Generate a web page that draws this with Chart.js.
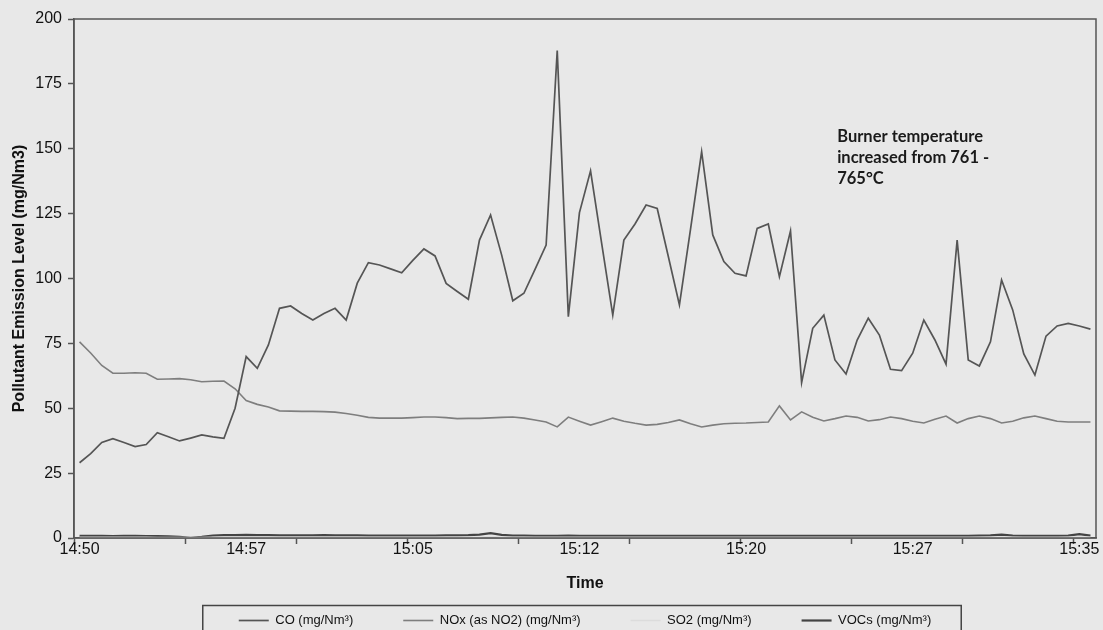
<!DOCTYPE html>
<html>
<head>
<meta charset="utf-8">
<title>Pollutant Emission Level</title>
<script src="https://cdn.jsdelivr.net/npm/chart.js@4.4.1/dist/chart.umd.min.js"></script>
<style>
  html, body { margin: 0; padding: 0; background: #e8e8e8; overflow: hidden; }
  #wrap { width: 1103px; height: 637px; }
</style>
</head>
<body>
<div id="wrap"><canvas id="emissionChart" width="1103" height="637"></canvas></div>
<script>
// --- Datos (una muestra cada 30 s, 14:50:00 - 15:35:30) ---
const co = [
  29, 32.5, 36.8, 38.3, 36.8, 35.2, 36, 40.6, 39, 37.4,
  38.5, 39.7, 39, 38.4, 50, 69.9, 65.4, 74.4, 88.5, 89.4,
  86.5, 84, 86.5, 88.5, 84, 98.2, 106.1, 105.2, 103.7, 102.2,
  107, 111.4, 108.7, 98.1, 95, 92, 114.8, 124.5, 109, 91.4,
  94.3, 103.5, 112.9, 187.8, 85.3, 125.4, 141.5, 113.5, 85.9, 114.8,
  121, 128.3, 127, 108.5, 89.8, 119, 148.9, 116.8, 106.5, 102,
  101, 119.3, 121, 100.7, 118.3, 59.9, 80.8, 85.9, 68.6, 63.2,
  76.3, 84.7, 78.2, 65, 64.5, 71.2, 84, 76.3, 67, 114.8,
  68.6, 66.3, 75.6, 99.4, 87.9, 70.9, 62.8, 77.8, 81.7, 82.7,
  81.7, 80.5
];
const nox = [
  75.6, 71.3, 66.5, 63.5, 63.5, 63.7, 63.5, 61.2, 61.3, 61.4,
  61, 60.2, 60.4, 60.5, 57.5, 53, 51.5, 50.5, 49, 48.9,
  48.8, 48.8, 48.7, 48.5, 48, 47.3, 46.5, 46.2, 46.2, 46.2,
  46.4, 46.6, 46.6, 46.4, 46, 46.1, 46.1, 46.3, 46.5, 46.6,
  46.2, 45.5, 44.7, 42.8, 46.6, 45, 43.5, 44.8, 46.2, 45,
  44.2, 43.5, 43.8, 44.5, 45.5, 44, 42.8, 43.5, 44, 44.2,
  44.3, 44.5, 44.7, 50.9, 45.5, 48.6, 46.5, 45.1, 46, 47,
  46.5, 45.1, 45.6, 46.6, 46, 45, 44.3, 45.8, 47, 44.3,
  46, 47, 46, 44.3, 45, 46.3, 47, 46, 45, 44.7,
  44.7, 44.7
];
const so2 = [
  0.3, 0.3, 0.3, 0.3, 0.3, 0.3, 0.3, 0.2, 0.2, 0.2,
  0.2, 0.2, 0.3, 0.3, 0.3, 0.3, 0.3, 0.3, 0.3, 0.3,
  0.3, 0.3, 0.3, 0.3, 0.3, 0.3, 0.3, 0.3, 0.3, 0.3,
  0.3, 0.3, 0.3, 0.3, 0.3, 0.3, 0.3, 0.5, 0.3, 0.3,
  0.3, 0.3, 0.3, 0.3, 0.3, 0.3, 0.3, 0.3, 0.3, 0.3,
  0.3, 0.3, 0.3, 0.3, 0.3, 0.3, 0.3, 0.3, 0.3, 0.3,
  0.3, 0.3, 0.3, 0.3, 0.3, 0.3, 0.3, 0.3, 0.3, 0.3,
  0.3, 0.3, 0.3, 0.3, 0.3, 0.3, 0.3, 0.3, 0.3, 0.3,
  0.3, 0.3, 0.3, 0.4, 0.3, 0.3, 0.3, 0.3, 0.3, 0.3,
  0.4, 0.3
];
const vocs = [
  0.8, 0.8, 0.8, 0.7, 0.8, 0.8, 0.7, 0.7, 0.6, 0.4,
  0.1, 0.4, 0.9, 1.1, 1.1, 1.2, 1.1, 1.1, 1.0, 1.0,
  1.0, 1.0, 1.1, 1.0, 1.0, 1.0, 0.9, 0.9, 0.9, 0.9,
  0.9, 0.9, 0.9, 1.0, 1.0, 1.1, 1.3, 1.9, 1.2, 0.9,
  0.9, 0.8, 0.8, 0.8, 0.9, 0.8, 0.8, 0.8, 0.8, 0.8,
  0.8, 0.8, 0.8, 0.8, 0.8, 0.8, 0.8, 0.8, 0.8, 0.8,
  0.8, 0.8, 0.8, 0.8, 0.8, 0.8, 0.8, 0.8, 0.8, 0.8,
  0.8, 0.8, 0.8, 0.8, 0.8, 0.8, 0.8, 0.8, 0.8, 0.8,
  0.8, 0.9, 1.0, 1.3, 0.9, 0.8, 0.8, 0.8, 0.8, 0.9,
  1.5, 0.9
];
const seriesNames = ['CO (mg/Nm³)', 'NOx (as NO2) (mg/Nm³)', 'SO2 (mg/Nm³)', 'VOCs (mg/Nm³)'];
const tickLabels = ['14:50', '14:57', '15:05', '15:12', '15:20', '15:27', '15:35'];
const labelEvery = 15;   // una etiqueta cada 7,5 min
const markEvery = 10;    // una marca cada 5 min
const yTicks = [0, 25, 50, 75, 100, 125, 150, 175, 200];
const noteLines = ['Burner temperature', 'increased from 761 -', '765°C'];
const notePos = { x: 68.2, y: 154.5 };

const FONT = "'Liberation Sans', Arial, sans-serif";
const INK = '#111111';
const AXIS = '#555555';

const toPoints = arr => arr.map((v, i) => ({ x: i, y: v }));

// Marco del área de trazado, nota y caja de la leyenda
const decorPlugin = {
  id: 'decor',
  afterDraw(chart) {
    const { ctx, chartArea: a, scales } = chart;
    ctx.save();
    ctx.strokeStyle = AXIS;
    ctx.lineWidth = 1.5;
    ctx.strokeRect(a.left, a.top, a.right - a.left, a.bottom - a.top);

    // nota de temperatura del quemador
    ctx.fillStyle = '#1a1a1a';
    ctx.font = "bold 16.5px Lato, 'Open Sans', sans-serif";
    ctx.textAlign = 'left';
    ctx.textBaseline = 'middle';
    const nx = scales.x.getPixelForValue(notePos.x);
    const ny = scales.y.getPixelForValue(notePos.y);
    noteLines.forEach((t, i) => ctx.fillText(t, nx, ny + i * 20.8));

    // caja de la leyenda (recortada por el borde inferior)
    const hb = chart.legend && chart.legend.legendHitBoxes;
    if (hb && hb.length) {
      const left = Math.min(...hb.map(h => h.left)) - 36;
      const right = Math.max(...hb.map(h => h.left + h.width)) + 30;
      const top = hb[0].top + hb[0].height / 2 - 15;
      ctx.strokeStyle = '#444';
      ctx.lineWidth = 1.5;
      ctx.beginPath();
      ctx.moveTo(left, chart.height);
      ctx.lineTo(left, top);
      ctx.lineTo(right, top);
      ctx.lineTo(right, chart.height);
      ctx.stroke();
    }
    ctx.restore();
  }
};

new Chart(document.getElementById('emissionChart'), {
  type: 'line',
  data: {
    datasets: [
      { label: seriesNames[0], data: toPoints(co), borderColor: '#555555', borderWidth: 1.7 },
      { label: seriesNames[1], data: toPoints(nox), borderColor: '#7e7e7e', borderWidth: 1.6 },
      { label: seriesNames[2], data: toPoints(so2), borderColor: '#dcdcdc', borderWidth: 1.6 },
      { label: seriesNames[3], data: toPoints(vocs), borderColor: '#444444', borderWidth: 2.2 }
    ]
  },
  options: {
    responsive: false,
    animation: false,
    devicePixelRatio: 1,
    elements: { point: { radius: 0 }, line: { tension: 0 } },
    layout: { padding: { top: 19, right: 7, left: 0, bottom: 0 } },
    scales: {
      x: {
        type: 'linear',
        min: -0.5,
        max: co.length - 0.5,
        afterBuildTicks: axis => {
          const ticks = tickLabels.map((_, k) => ({ value: k * labelEvery }));
          for (let v = -0.5; v < co.length - 0.5; v += markEvery) ticks.push({ value: v });
          ticks.sort((p, q) => p.value - q.value);
          axis.ticks = ticks;
        },
        afterFit: axis => { axis.height = 26; },
        border: { display: true, color: AXIS, width: 1.5 },
        grid: {
          drawOnChartArea: false,
          tickLength: 6,
          tickWidth: 1.5,
          tickColor: c => (c.tick && !Number.isInteger(c.tick.value)) ? AXIS : 'rgba(0,0,0,0)'
        },
        ticks: {
          autoSkip: false,
          maxRotation: 0,
          minRotation: 0,
          padding: -4,
          color: INK,
          font: { family: FONT, size: 16, lineHeight: 1.2 },
          callback: v => (Number.isInteger(v) && v % labelEvery === 0) ? tickLabels[v / labelEvery] : ''
        },
        title: {
          display: true,
          text: 'Time',
          color: INK,
          font: { family: FONT, size: 16, weight: 'bold', lineHeight: 1.2 },
          padding: { top: 0, bottom: -29.6 }
        }
      },
      y: {
        min: 0,
        max: 200,
        afterBuildTicks: axis => { axis.ticks = yTicks.map(v => ({ value: v })); },
        afterFit: axis => { axis.width = 74; },
        border: { display: true, color: AXIS, width: 1.5 },
        grid: { drawOnChartArea: false, tickLength: 6, tickWidth: 1.5, tickColor: AXIS },
        ticks: {
          padding: 6,
          color: INK,
          font: { family: FONT, size: 16 }
        },
        title: {
          display: true,
          text: 'Pollutant Emission Level (mg/Nm3)',
          color: INK,
          font: { family: FONT, size: 16, weight: 'bold', lineHeight: 1.2 },
          padding: { top: 10, bottom: 0 }
        }
      }
    },
    plugins: {
      legend: {
        position: 'bottom',
        fullSize: false,
        labels: {
          usePointStyle: true,
          pointStyle: 'line',
          pointStyleWidth: 30,
          padding: 50,
          color: INK,
          font: { family: FONT, size: 13 }
        }
      },
      tooltip: { enabled: false }
    }
  },
  plugins: [decorPlugin]
});
</script>
</body>
</html>
